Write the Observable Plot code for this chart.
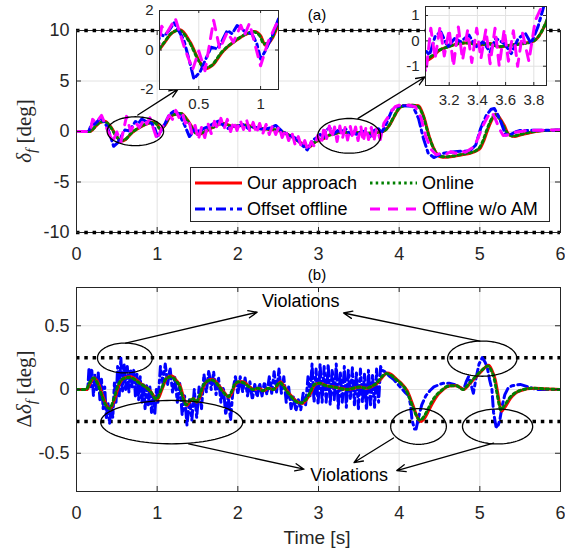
<!DOCTYPE html>
<html><head><meta charset="utf-8">
<script src="https://cdn.jsdelivr.net/npm/d3@7"></script>
<script src="https://cdn.jsdelivr.net/npm/@observablehq/plot@0.6"></script>
<style>
body{margin:0;background:#fff;}
#root{position:relative;width:565px;height:552px;overflow:hidden;background:#fff;font-family:"Liberation Sans",Arial,Helvetica,sans-serif;color:#262626;}
.lbl{position:absolute;white-space:nowrap;font-weight:400;}
.ylab{position:absolute;white-space:nowrap;font-family:"Liberation Serif","DejaVu Serif",serif;font-size:21px;color:#262626;transform:translate(-50%,-50%) rotate(-90deg);}
.ylab sub{font-size:15px;vertical-align:-5px;}
</style></head>
<body><div id="root"></div>
<script>
// ---------------- DATA ----------------
const xTicks = [0, 1, 2, 3, 4, 5, 6];
const yTicksTop = [-10, -5, 0, 5, 10];
const yTicksBot = [-0.5, 0, 0.5];
const limitsTop = [10, -10];
const limitsBot = [0.25, -0.25];
const inset1XTicks = [0.5, 1];
const inset1YTicks = [-2, 0, 2];
const inset2XTicks = [3.2, 3.4, 3.6, 3.8];
const inset2YTicks = [-1, 0, 1];
const legendLabels = ["Our approach", "Online", "Offset offline", "Offline w/o AM"];

// (a) steering angle delta_f [deg], [time s, value]
const ourTop = [[0,0],[0.17,0],[0.22,0.35],[0.28,0.85],[0.35,1.02],[0.43,0.4],[0.51,-0.62],[0.555,-0.95],[0.61,-0.78],[0.69,-0.11],[0.80,0.48],[0.89,0.82],[0.95,0.94],[1.0,0.73],[1.04,0.23],[1.10,0.65],[1.15,1.35],[1.22,1.7],[1.30,1.79],[1.37,1.2],[1.43,0.47],[1.51,-0.3],[1.58,-0.1],[1.65,0.25],[1.72,0.5],[1.8,0.8],[1.87,0.7],[1.93,0.5],[2.0,0.55],[2.09,0.64],[2.17,0.5],[2.26,0.3],[2.35,0.25],[2.47,0.15],[2.53,0.05],[2.59,-0.18],[2.68,-0.55],[2.76,-1.0],[2.84,-1.45],[2.88,-1.55],[2.93,-1.25],[2.97,-1.0],[3.02,-0.83],[3.07,-0.69],[3.13,-0.37],[3.19,-0.24],[3.27,-0.1],[3.34,-0.07],[3.41,-0.17],[3.49,-0.1],[3.56,-0.24],[3.63,-0.17],[3.72,-0.1],[3.79,-0.03],[3.84,0.22],[3.89,0.75],[3.94,1.5],[3.99,2.2],[4.05,2.55],[4.15,2.6],[4.24,2.55],[4.30,1.6],[4.38,-0.67],[4.45,-2.0],[4.51,-2.5],[4.58,-2.55],[4.68,-2.45],[4.78,-2.3],[4.88,-2.15],[4.96,-1.9],[5.01,-1.6],[5.05,-0.9],[5.09,0.0],[5.14,1.0],[5.2,1.7],[5.25,1.3],[5.3,0.64],[5.36,-0.3],[5.43,-0.5],[5.5,-0.35],[5.63,-0.1],[5.8,0.1],[6.0,0.12]];
const onlineTop = [[0,0],[0.16,0],[0.21,0.3],[0.27,0.8],[0.34,1.0],[0.42,0.45],[0.50,-0.55],[0.545,-0.9],[0.60,-0.8],[0.68,-0.15],[0.79,0.45],[0.88,0.8],[0.94,0.92],[0.99,0.75],[1.03,0.3],[1.09,0.6],[1.14,1.3],[1.21,1.68],[1.29,1.78],[1.36,1.25],[1.42,0.5],[1.50,-0.28],[1.57,-0.12],[1.64,0.22],[1.71,0.48],[1.79,0.78],[1.86,0.72],[1.92,0.52],[1.99,0.54],[2.08,0.62],[2.16,0.52],[2.25,0.32],[2.34,0.24],[2.46,0.16],[2.52,0.06],[2.58,-0.15],[2.67,-0.52],[2.75,-0.98],[2.83,-1.42],[2.87,-1.52],[2.92,-1.28],[2.96,-1.02],[3.02,-0.8],[3.07,-0.62],[3.12,-0.4],[3.18,-0.26],[3.26,-0.12],[3.33,-0.08],[3.40,-0.15],[3.48,-0.12],[3.55,-0.22],[3.62,-0.18],[3.71,-0.12],[3.78,-0.05],[3.83,0.15],[3.88,0.65],[3.93,1.4],[3.98,2.1],[4.04,2.5],[4.14,2.6],[4.23,2.5],[4.29,1.7],[4.37,-0.5],[4.44,-1.9],[4.50,-2.45],[4.57,-2.5],[4.67,-2.42],[4.77,-2.28],[4.87,-2.12],[4.95,-1.9],[5.0,-1.55],[5.04,-0.9],[5.08,0.0],[5.13,1.0],[5.19,1.65],[5.24,1.3],[5.29,0.6],[5.35,-0.25],[5.42,-0.45],[5.49,-0.32],[5.62,-0.08],[5.8,0.1],[6.0,0.12]];
const offsetTop = [[0,0],[0.15,0],[0.19,0.8],[0.22,0.7],[0.26,1.0],[0.30,1.38],[0.34,0.95],[0.38,0.48],[0.43,-0.7],[0.46,-1.46],[0.51,-1.12],[0.55,-0.55],[0.60,0.14],[0.65,0.06],[0.69,0.48],[0.73,0.99],[0.77,0.82],[0.81,1.24],[0.88,0.9],[0.93,0.82],[0.97,0.31],[1.0,-0.45],[1.04,-0.03],[1.10,0.82],[1.15,1.66],[1.22,2.1],[1.28,1.6],[1.34,0.64],[1.40,-0.5],[1.44,-0.1],[1.47,0.3],[1.52,0.0],[1.58,0.3],[1.63,0.47],[1.70,0.8],[1.76,1.03],[1.82,0.6],[1.88,0.3],[1.94,0.55],[2.0,0.5],[2.06,0.7],[2.13,0.3],[2.2,0.45],[2.26,0.3],[2.33,0.2],[2.40,0.35],[2.47,0.6],[2.55,0.0],[2.62,-0.3],[2.72,-0.67],[2.79,-1.3],[2.86,-1.82],[2.93,-0.84],[2.98,-0.6],[3.02,-0.29],[3.06,-0.56],[3.10,0.17],[3.14,0.36],[3.19,-0.24],[3.24,0.1],[3.28,-0.03],[3.34,0.23],[3.39,-0.24],[3.44,-0.03],[3.49,-0.44],[3.53,0.1],[3.59,-0.1],[3.64,-0.5],[3.69,0.1],[3.74,0.3],[3.78,-0.1],[3.83,0.56],[3.87,1.35],[3.91,2.1],[3.97,2.45],[4.05,2.55],[4.17,2.5],[4.24,1.3],[4.30,-0.67],[4.36,-2.15],[4.43,-2.58],[4.50,-2.3],[4.55,-2.15],[4.63,-2.05],[4.72,-1.98],[4.80,-1.95],[4.88,-1.9],[4.95,-1.33],[5.01,0.3],[5.08,1.6],[5.14,2.2],[5.18,2.28],[5.22,1.7],[5.26,0.97],[5.32,-0.34],[5.38,-0.3],[5.44,-0.05],[5.5,0.1],[5.71,0.12],[6.0,0.14]];
const noAmTop = [[0,0],[0.17,0],[0.20,1.2],[0.24,0.85],[0.31,1.6],[0.38,0.2],[0.45,-1.0],[0.50,-0.05],[0.55,-1.05],[0.62,1.5],[0.67,0.05],[0.73,0.9],[0.78,0.4],[0.84,1.25],[0.87,0.75],[0.91,1.35],[1.0,-0.8],[1.06,0.4],[1.15,1.6],[1.19,1.2],[1.23,2.1],[1.27,1.4],[1.31,1.9],[1.35,0.8],[1.39,1.2],[1.43,-0.2],[1.47,0.6],[1.51,-0.8],[1.55,0.4],[1.59,-0.6],[1.63,0.8],[1.67,-0.2],[1.71,1.0],[1.75,0.2],[1.79,1.3],[1.83,0.3],[1.87,1.2],[1.91,0.0],[1.95,1.0],[1.99,0.1],[2.03,1.1],[2.07,0.2],[2.11,1.1],[2.15,0.0],[2.19,0.9],[2.23,-0.2],[2.27,0.8],[2.31,-0.2],[2.35,0.7],[2.39,-0.3],[2.43,0.6],[2.47,-0.3],[2.51,0.5],[2.55,-0.6],[2.59,0.2],[2.63,-0.9],[2.67,-0.1],[2.71,-1.3],[2.75,-0.5],[2.79,-1.6],[2.83,-0.9],[2.87,-1.9],[2.91,-1.0],[2.95,-1.5],[2.99,-0.4],[3.035,-1.25],[3.07,0.5],[3.10,-0.7],[3.135,0.55],[3.165,-0.6],[3.20,0.45],[3.23,-1.0],[3.265,0.55],[3.295,-0.75],[3.33,0.4],[3.36,-0.85],[3.395,0.5],[3.425,-0.7],[3.46,0.45],[3.49,-0.9],[3.525,0.5],[3.555,-1.0],[3.59,0.45],[3.62,-0.8],[3.655,0.4],[3.685,-1.0],[3.72,0.3],[3.765,-0.8],[3.81,0.8],[3.86,1.4],[3.9,2.0],[3.95,2.45],[4.0,2.6],[4.12,2.6],[4.2,2.45],[4.27,1.4],[4.33,-0.5],[4.4,-1.8],[4.46,-2.3],[4.52,-2.15],[4.58,-2.25],[4.64,-2.0],[4.7,-2.15],[4.76,-1.9],[4.82,-2.05],[4.88,-1.75],[4.93,-1.5],[4.98,-0.6],[5.04,0.6],[5.1,1.5],[5.15,1.9],[5.19,1.3],[5.24,0.3],[5.29,-0.4],[5.34,-0.35],[5.42,-0.1],[5.6,0.12],[6.0,0.15]];

// (b) steering increment Delta delta_f [deg]
const ourBot = [[0,0],[0.13,0],[0.17,0.05],[0.22,0.09],[0.27,0.05],[0.33,-0.06],[0.38,-0.13],[0.42,-0.15],[0.47,-0.08],[0.53,0.04],[0.59,0.09],[0.67,0.1],[0.79,0.05],[0.92,-0.015],[1.0,-0.08],[1.06,0.0],[1.12,0.09],[1.18,0.105],[1.24,0.07],[1.29,0.02],[1.33,-0.07],[1.37,-0.125],[1.41,-0.09],[1.45,-0.07],[1.49,-0.1],[1.53,-0.06],[1.58,0.03],[1.62,0.065],[1.68,0.08],[1.73,0.06],[1.78,0.02],[1.84,-0.03],[1.89,-0.06],[1.93,-0.02],[1.97,0.04],[2.02,0.06],[2.07,0.06],[2.13,0.03],[2.2,0.0],[2.26,0.01],[2.32,-0.01],[2.38,0.01],[2.45,0.0],[2.49,0.03],[2.53,0.06],[2.57,0.03],[2.61,-0.01],[2.65,-0.04],[2.69,-0.07],[2.75,-0.1],[2.8,-0.11],[2.85,-0.08],[2.9,-0.03],[2.96,0.04],[3.02,0.05],[3.1,0.03],[3.19,0.02],[3.27,0.01],[3.36,0.0],[3.44,0.01],[3.52,0.02],[3.6,0.01],[3.68,0.03],[3.73,0.05],[3.77,0.08],[3.81,0.11],[3.85,0.13],[3.9,0.12],[3.97,0.08],[4.04,0.04],[4.1,-0.01],[4.14,-0.07],[4.18,-0.14],[4.22,-0.21],[4.27,-0.25],[4.32,-0.22],[4.37,-0.16],[4.42,-0.1],[4.47,-0.05],[4.53,-0.01],[4.59,0.02],[4.66,0.03],[4.72,0.03],[4.77,0.01],[4.8,0.0],[4.84,0.02],[4.88,0.05],[4.94,0.09],[5.0,0.13],[5.06,0.17],[5.11,0.19],[5.15,0.15],[5.19,0.08],[5.22,-0.02],[5.25,-0.13],[5.27,-0.17],[5.31,-0.14],[5.38,-0.07],[5.44,-0.03],[5.5,-0.01],[5.67,0.01],[5.8,0.005],[6.0,0.0]];
const onlineBot = [[0,0],[0.12,0],[0.16,0.05],[0.21,0.09],[0.26,0.05],[0.32,-0.06],[0.37,-0.13],[0.41,-0.15],[0.46,-0.08],[0.52,0.04],[0.58,0.085],[0.66,0.095],[0.78,0.05],[0.91,-0.01],[0.99,-0.075],[1.05,0.0],[1.11,0.085],[1.17,0.1],[1.23,0.07],[1.28,0.02],[1.32,-0.07],[1.36,-0.12],[1.40,-0.09],[1.44,-0.07],[1.48,-0.1],[1.52,-0.06],[1.57,0.03],[1.61,0.06],[1.67,0.075],[1.72,0.06],[1.77,0.02],[1.83,-0.03],[1.88,-0.055],[1.92,-0.02],[1.96,0.04],[2.01,0.06],[2.06,0.055],[2.12,0.03],[2.19,0.0],[2.25,0.01],[2.31,-0.01],[2.37,0.01],[2.44,0.0],[2.48,0.03],[2.52,0.055],[2.56,0.03],[2.60,-0.01],[2.64,-0.04],[2.68,-0.07],[2.74,-0.1],[2.79,-0.105],[2.84,-0.08],[2.89,-0.03],[2.95,0.04],[3.01,0.05],[3.09,0.03],[3.18,0.02],[3.26,0.01],[3.35,0.0],[3.43,0.01],[3.51,0.02],[3.59,0.01],[3.67,0.03],[3.72,0.05],[3.76,0.08],[3.80,0.11],[3.84,0.125],[3.89,0.115],[3.96,0.08],[4.03,0.04],[4.09,-0.01],[4.13,-0.07],[4.17,-0.14],[4.21,-0.2],[4.26,-0.24],[4.31,-0.21],[4.36,-0.15],[4.41,-0.09],[4.46,-0.045],[4.52,-0.01],[4.58,0.02],[4.65,0.03],[4.71,0.03],[4.76,0.01],[4.79,0.0],[4.83,0.02],[4.87,0.05],[4.93,0.09],[4.99,0.13],[5.05,0.165],[5.10,0.185],[5.14,0.15],[5.18,0.08],[5.21,-0.02],[5.24,-0.12],[5.26,-0.16],[5.30,-0.13],[5.37,-0.065],[5.43,-0.03],[5.49,-0.01],[5.66,0.01],[5.8,0.005],[6.0,0.0]];
const offsetBot = [[0,0],[0.14,0],[0.155,0.17],[0.175,0.02],[0.19,0.15],[0.21,-0.05],[0.23,0.12],[0.25,0.0],[0.27,0.13],[0.29,-0.08],[0.31,0.08],[0.33,-0.15],[0.35,0.02],[0.37,-0.22],[0.39,-0.1],[0.41,-0.27],[0.43,-0.12],[0.45,-0.22],[0.47,0.05],[0.49,-0.1],[0.51,0.18],[0.53,-0.05],[0.55,0.25],[0.57,-0.02],[0.59,0.2],[0.61,0.0],[0.63,0.18],[0.65,-0.02],[0.67,0.16],[0.69,0.02],[0.71,0.15],[0.73,-0.05],[0.75,0.12],[0.77,-0.08],[0.79,0.1],[0.81,-0.1],[0.83,0.05],[0.85,-0.15],[0.87,0.03],[0.89,-0.12],[0.91,0.02],[0.93,-0.18],[0.95,-0.05],[0.97,-0.2],[0.99,0.0],[1.01,-0.1],[1.04,0.18],[1.07,0.05],[1.1,0.2],[1.13,0.04],[1.16,0.17],[1.19,-0.02],[1.22,0.1],[1.25,-0.1],[1.28,0.05],[1.31,-0.2],[1.34,-0.05],[1.37,-0.28],[1.40,-0.08],[1.43,-0.24],[1.46,0.0],[1.49,-0.22],[1.52,0.02],[1.55,-0.15],[1.58,0.12],[1.61,-0.02],[1.64,0.15],[1.67,0.0],[1.70,0.14],[1.73,-0.04],[1.76,0.1],[1.79,-0.1],[1.82,0.02],[1.85,-0.2],[1.88,-0.05],[1.91,-0.24],[1.94,0.0],[1.97,0.1],[2.0,-0.04],[2.03,0.1],[2.06,-0.02],[2.09,0.09],[2.12,-0.05],[2.15,0.06],[2.18,-0.08],[2.21,0.04],[2.24,-0.06],[2.27,0.05],[2.30,-0.05],[2.33,0.06],[2.36,-0.04],[2.39,0.1],[2.42,-0.03],[2.45,0.14],[2.48,-0.02],[2.51,0.16],[2.54,-0.03],[2.57,0.1],[2.60,-0.1],[2.63,0.02],[2.66,-0.15],[2.69,-0.05],[2.72,-0.17],[2.75,-0.08],[2.78,-0.16],[2.81,-0.03],[2.84,-0.12],[2.87,0.1],[2.895,-0.05],[2.92,0.2],[2.945,-0.1],[2.97,0.16],[2.995,-0.12],[3.02,0.2],[3.045,-0.1],[3.07,0.18],[3.095,-0.1],[3.12,0.2],[3.145,-0.12],[3.17,0.16],[3.195,-0.08],[3.22,0.2],[3.245,-0.15],[3.27,0.14],[3.295,-0.1],[3.32,0.18],[3.345,-0.14],[3.37,0.15],[3.395,-0.08],[3.42,0.17],[3.445,-0.12],[3.47,0.13],[3.495,-0.15],[3.52,0.16],[3.545,-0.1],[3.57,0.12],[3.595,-0.16],[3.62,0.15],[3.645,-0.12],[3.67,0.11],[3.695,-0.14],[3.72,0.16],[3.745,-0.1],[3.77,0.18],[3.79,0.15],[3.82,0.14],[3.87,0.11],[3.93,0.08],[4.0,0.03],[4.07,-0.02],[4.12,-0.05],[4.14,-0.12],[4.16,-0.24],[4.19,-0.31],[4.21,-0.31],[4.24,-0.22],[4.28,-0.12],[4.33,-0.05],[4.38,-0.01],[4.43,0.02],[4.5,0.04],[4.55,0.05],[4.62,0.05],[4.68,0.04],[4.74,0.02],[4.8,0.0],[4.83,0.06],[4.86,0.1],[4.89,0.04],[4.92,-0.03],[4.95,0.08],[4.99,0.2],[5.03,0.25],[5.06,0.22],[5.09,0.18],[5.12,0.08],[5.15,0.0],[5.17,-0.18],[5.2,-0.29],[5.22,-0.3],[5.25,-0.23],[5.28,-0.12],[5.31,-0.04],[5.35,0.01],[5.4,0.03],[5.5,0.04],[5.6,0.02],[5.7,0.0],[6.0,0.0]];

// annotations (data units)
const ellipsesTop = [{cx:0.73, cy:0.03, rx:0.35, ry:1.43}, {cx:3.38, cy:-0.43, rx:0.39, ry:1.72}];
const arrowsTop = [{x1:0.76, y1:1.63, x2:1.26, y2:4.2}, {x1:3.49, y1:1.3, x2:4.32, y2:5.4}];
const ellipsesBot = [{cx:0.6, cy:0.247, rx:0.34, ry:0.117}, {cx:5.03, cy:0.242, rx:0.43, ry:0.138}, {cx:1.18, cy:-0.256, rx:0.88, ry:0.17}, {cx:4.24, cy:-0.29, rx:0.345, ry:0.14}, {cx:5.22, cy:-0.29, rx:0.435, ry:0.137}];
const arrowsBot = [{x1:0.61, y1:0.364, x2:2.24, y2:0.606}, {x1:5.0, y1:0.38, x2:3.31, y2:0.60}, {x1:1.39, y1:-0.427, x2:2.82, y2:-0.625}, {x1:3.93, y1:-0.38, x2:3.44, y2:-0.573}, {x1:5.17, y1:-0.42, x2:3.97, y2:-0.636}];
const textsBot = [{x:2.78, y:0.69, s:"Violations"}, {x:3.38, y:-0.675, s:"Violations"}];

// ---------------- STYLE ----------------
const AX = "#262626";
const FONT = "Liberation Sans, Arial, Helvetica, sans-serif";
const ST = {
  our:    {stroke:"#ff0000", strokeWidth:3},
  online: {stroke:"#008000", strokeWidth:3, strokeDasharray:"2.5,3.2"},
  offset: {stroke:"#0000ff", strokeWidth:3, strokeDasharray:"10,4,3,4"},
  noam:   {stroke:"#ff00ff", strokeWidth:3, strokeDasharray:"10,8"}
};
const px = d => d[0], py = d => d[1];
const root = document.getElementById("root");
function place(el, left, top) {
  const d = document.createElement("div");
  d.style.cssText = `position:absolute;left:${left}px;top:${top}px;`;
  d.appendChild(el); root.appendChild(d);
}
function ticks(xt, yt, iw, ih, len) {
  const o = {stroke:AX, strokeWidth:1};
  return [
    Plot.ruleX(xt, {...o, x:d=>d, insetTop: ih - len}),
    Plot.ruleX(xt, {...o, x:d=>d, insetBottom: ih - len}),
    Plot.ruleY(yt, {...o, y:d=>d, insetRight: iw - len}),
    Plot.ruleY(yt, {...o, y:d=>d, insetLeft: iw - len})
  ];
}
function ellipsePts(list) {
  return list.flatMap((e, i) => d3.range(0, 97).map(k => {
    const a = k / 96 * 2 * Math.PI;
    return {i, x: e.cx + e.rx * Math.cos(a), y: e.cy + e.ry * Math.sin(a)};
  }));
}
const fmt = d => String(d);
const line = (data, st, curve, clip) => Plot.line(data, {x:px, y:py, ...st, curve, clip});

// ---------------- TOP PANEL (a) ----------------
{
  const W = 565, H = 265, m = {top:30, right:5, bottom:33, left:76};
  const iw = W - m.left - m.right, ih = H - m.top - m.bottom;
  const svg = Plot.plot({
    width: W, height: H, marginTop: m.top, marginRight: m.right, marginBottom: m.bottom, marginLeft: m.left,
    style: {fontSize:"18px", fontFamily:FONT, color:AX, background:"transparent", overflow:"visible"},
    x: {domain:[0,6], ticks:xTicks, tickSize:0, tickPadding:15, tickFormat:fmt, label:null},
    y: {domain:[-10,10], ticks:yTicksTop, tickSize:0, tickPadding:7, tickFormat:fmt, label:null},
    marks: [
      Plot.ruleX(xTicks.slice(1,-1), {x:d=>d, stroke:"#e2e2e2", strokeWidth:1}),
      Plot.ruleY(yTicksTop.slice(1,-1), {y:d=>d, stroke:"#e2e2e2", strokeWidth:1}),
      line(ourTop, ST.our, "monotone-x", true),
      line(onlineTop, ST.online, "monotone-x", true),
      line(offsetTop, ST.offset, "linear", true),
      line(noAmTop, ST.noam, "linear", true),
      Plot.frame({stroke:AX, strokeWidth:1}),
      Plot.ruleY(limitsTop, {y:d=>d, stroke:"black", strokeWidth:3.5, strokeDasharray:"3.5,4.8"}),
      ...ticks(xTicks, yTicksTop, iw, ih, 5),
      Plot.line(ellipsePts(ellipsesTop), {x:"x", y:"y", z:"i", stroke:"black", strokeWidth:1.3}),
      Plot.arrow(arrowsTop, {x1:"x1", y1:"y1", x2:"x2", y2:"y2", stroke:"black", strokeWidth:1.3, headLength:11, headAngle:45})
    ]
  });
  place(svg, 0, 0);
}

// ---------------- BOTTOM PANEL (b) ----------------
{
  const W = 565, H = 287, m = {top:22, right:5, bottom:61, left:76};
  const iw = W - m.left - m.right, ih = H - m.top - m.bottom;
  const svg = Plot.plot({
    width: W, height: H, marginTop: m.top, marginRight: m.right, marginBottom: m.bottom, marginLeft: m.left,
    style: {fontSize:"18px", fontFamily:FONT, color:AX, background:"transparent", overflow:"visible"},
    x: {domain:[0,6], ticks:xTicks, tickSize:0, tickPadding:15, tickFormat:fmt, label:null},
    y: {domain:[-0.8,0.8], ticks:yTicksBot, tickSize:0, tickPadding:7, tickFormat:fmt, label:null},
    marks: [
      Plot.ruleX(xTicks.slice(1,-1), {x:d=>d, stroke:"#e2e2e2", strokeWidth:1}),
      Plot.ruleY(yTicksBot, {y:d=>d, stroke:"#e2e2e2", strokeWidth:1}),
      Plot.ruleY(limitsBot, {y:d=>d, stroke:"black", strokeWidth:3.5, strokeDasharray:"3.5,4.8"}),
      line(offsetBot, ST.offset, "linear", true),
      line(ourBot, ST.our, "monotone-x", true),
      line(onlineBot, ST.online, "monotone-x", true),
      Plot.frame({stroke:AX, strokeWidth:1}),
      ...ticks(xTicks, yTicksBot, iw, ih, 5),
      Plot.line(ellipsePts(ellipsesBot), {x:"x", y:"y", z:"i", stroke:"black", strokeWidth:1.3}),
      Plot.arrow(arrowsBot, {x1:"x1", y1:"y1", x2:"x2", y2:"y2", stroke:"black", strokeWidth:1.3, headLength:11, headAngle:45}),
      Plot.text(textsBot, {x:"x", y:"y", text:"s", fontSize:18, fill:"black"})
    ]
  });
  place(svg, 0, 265);
}

// ---------------- INSETS ----------------
function inset(left, top, boxW, boxH, mL, mB, xd, yd, xt, yt) {
  const W = mL + boxW + 6, H = 0 + boxH + mB;
  const svg = Plot.plot({
    width: W, height: H, marginTop: 0, marginRight: 6, marginBottom: mB, marginLeft: mL,
    style: {fontSize:"15px", fontFamily:FONT, color:AX, background:"transparent", overflow:"visible"},
    x: {domain:xd, ticks:xt, tickSize:0, tickPadding:9, tickFormat:fmt, label:null},
    y: {domain:yd, ticks:yt, tickSize:0, tickPadding:6, tickFormat:fmt, label:null},
    marks: [
      Plot.frame({fill:"white", stroke:null}),
      Plot.ruleX(xt, {x:d=>d, stroke:"#e2e2e2", strokeWidth:1}),
      Plot.ruleY(yt, {y:d=>d, stroke:"#e2e2e2", strokeWidth:1}),
      line(ourTop, ST.our, "monotone-x", true),
      line(onlineTop, ST.online, "monotone-x", true),
      line(offsetTop, ST.offset, "linear", true),
      line(noAmTop, ST.noam, "linear", true),
      Plot.frame({stroke:AX, strokeWidth:1}),
      ...ticks(xt, yt, boxW, boxH, 3)
    ]
  });
  place(svg, left - mL, top);
}
inset(159, 10, 119, 79, 30, 26, [0.182, 1.145], [-2, 2], inset1XTicks, inset1YTicks);
inset(425, 6, 121, 79, 30, 26, [3.032, 3.89], [-1.76, 1.355], inset2XTicks, inset2YTicks);

// ---------------- LEGEND ----------------
{
  const w = 360, h = 55;
  const svg = d3.create("svg").attr("width", w).attr("height", h).style("overflow","visible");
  svg.append("rect").attr("x",0.5).attr("y",0.5).attr("width",w-1).attr("height",h-1).attr("fill","white").attr("stroke",AX).attr("stroke-width",1);
  const items = [
    {st:ST.our, x:5, y:16}, {st:ST.online, x:180, y:16},
    {st:ST.offset, x:5, y:42}, {st:ST.noam, x:180, y:42}
  ];
  items.forEach((it, i) => {
    svg.append("line").attr("x1", it.x).attr("x2", it.x + 47).attr("y1", it.y).attr("y2", it.y)
      .attr("stroke", it.st.stroke).attr("stroke-width", it.st.strokeWidth)
      .attr("stroke-dasharray", it.st.strokeDasharray || null);
    svg.append("text").attr("x", it.x + 52).attr("y", it.y).attr("dy", "0.35em")
      .attr("font-family", FONT).attr("font-size", 18).attr("fill", "black").text(legendLabels[i]);
  });
  place(svg.node(), 190, 167);
}

// ---------------- TEXT LABELS ----------------
function addDiv(html, css, cls) {
  const d = document.createElement("div");
  d.className = cls || "lbl"; d.style.cssText += css; d.innerHTML = html; root.appendChild(d);
}
addDiv("(a)", "left:317px;top:14px;font-size:15px;transform:translate(-50%,-50%);color:#000;");
addDiv("(b)", "left:317px;top:274px;font-size:15px;transform:translate(-50%,-50%);color:#000;");
addDiv("Time [s]", "left:317px;top:538px;font-size:19px;transform:translate(-50%,-50%);color:#262626;");
addDiv("<i>δ</i><sub><i>f</i></sub> [deg]", "left:26px;top:131px;", "ylab");
addDiv("Δ<i>δ</i><sub><i>f</i></sub> [deg]", "left:26px;top:389px;", "ylab");
</script></body></html>
